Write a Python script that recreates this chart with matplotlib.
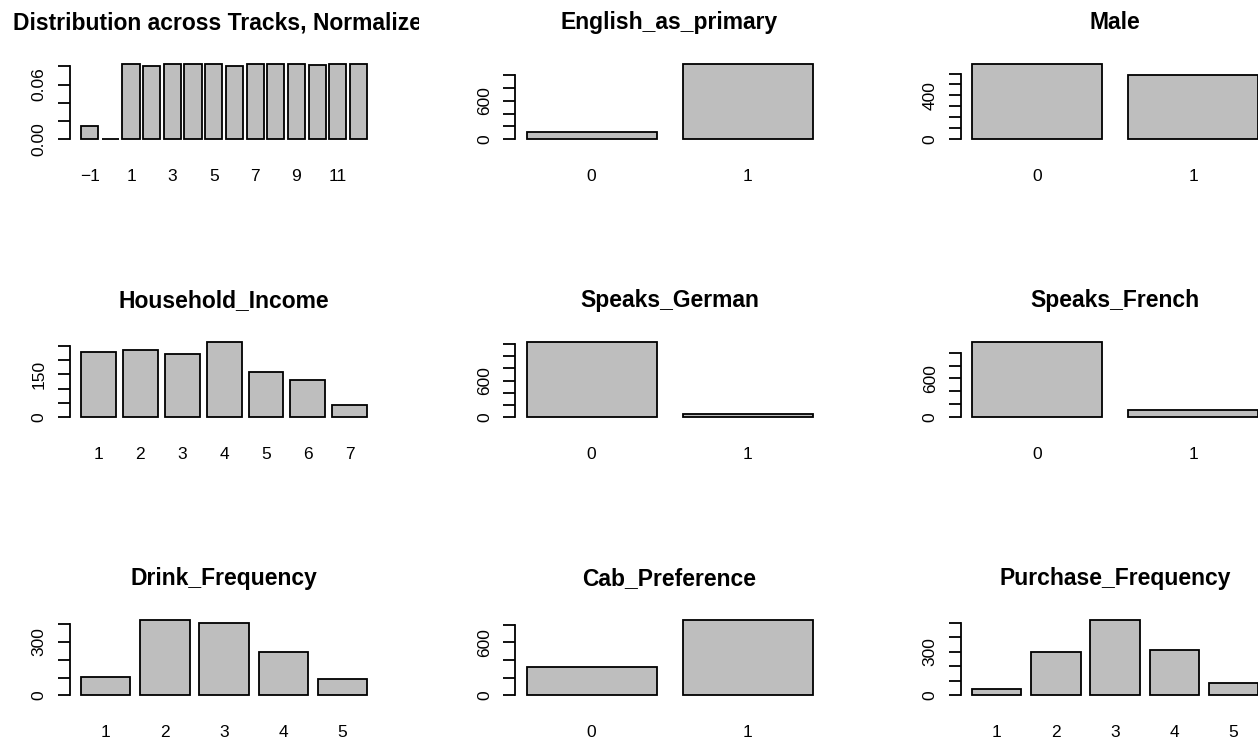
import numpy as np
import matplotlib
matplotlib.use("Agg")
import matplotlib.pyplot as plt
from matplotlib.transforms import Bbox, TransformedBbox

plt.rcParams['font.family'] = ['Liberation Sans', 'DejaVu Sans']

# counts per variable (survey data)
track_labels = ["\u22121", "0", "1", "2", "3", "4", "5", "6", "7", "8", "9", "10", "11", "12"]
track_share = [0.0146, 0.0005, 0.0824, 0.0809, 0.0824, 0.0824, 0.0824, 0.0809,
               0.0824, 0.0824, 0.0824, 0.0815, 0.0824, 0.0824]

binary_labels = ["0", "1"]
english_primary = [110, 1165]
male = [685, 590]
speaks_german = [1226, 49]
speaks_french = [1161, 114]
cab_preference = [322, 852]

income_labels = ["1", "2", "3", "4", "5", "6", "7"]
household_income = [229, 234, 220, 262, 159, 129, 42]

freq_labels = ["1", "2", "3", "4", "5"]
drink_frequency = [104, 423, 408, 246, 93]
purchase_frequency = [44, 299, 519, 315, 88]

panels = [
    ("Distribution across Tracks, Normalized", track_labels, track_share,
     [0, 0.02, 0.04, 0.06, 0.08], {0: "0.00", 0.06: "0.06"}, 2),
    ("English_as_primary", binary_labels, english_primary,
     [0, 200, 400, 600, 800, 1000], {0: "0", 600: "600"}, 1),
    ("Male", binary_labels, male,
     [0, 100, 200, 300, 400, 500, 600], {0: "0", 400: "400"}, 1),
    ("Household_Income", income_labels, household_income,
     [0, 50, 100, 150, 200, 250], {0: "0", 150: "150"}, 1),
    ("Speaks_German", binary_labels, speaks_german,
     [0, 200, 400, 600, 800, 1000, 1200], {0: "0", 600: "600"}, 1),
    ("Speaks_French", binary_labels, speaks_french,
     [0, 200, 400, 600, 800, 1000], {0: "0", 600: "600"}, 1),
    ("Drink_Frequency", freq_labels, drink_frequency,
     [0, 100, 200, 300, 400], {0: "0", 300: "300"}, 1),
    ("Cab_Preference", binary_labels, cab_preference,
     [0, 200, 400, 600, 800], {0: "0", 600: "600"}, 1),
    ("Purchase_Frequency", freq_labels, purchase_frequency,
     [0, 100, 200, 300, 400, 500], {0: "0", 300: "300"}, 1),
]

W, H = 1258, 740
fig = plt.figure(figsize=(W / 100, H / 100), dpi=100)

# plot regions in pixels, like par(mfrow=c(3,3))
col_w, row_h = 445.5, 278.0
plot_w, plot_h = 309.0, 81.1
left0, top0 = 69.6, 61.2

for k, (title, labels, values, yticks, shown, step) in enumerate(panels):
    r, c = divmod(k, 3)
    left = left0 + c * col_w
    top = top0 + r * row_h
    ax = fig.add_axes([left / W, 1 - (top + plot_h) / H, plot_w / W, plot_h / H])

    n = len(values)
    x = 0.2 + 1.2 * np.arange(n)
    ax.bar(x, values, width=1.0, align='edge', color='#BEBEBE',
           edgecolor='black', linewidth=1.3)

    xr = 1.2 * n - 0.2
    ax.set_xlim(0.2 - 0.04 * xr, 1.2 * n + 0.04 * xr)
    vmax = max(values)
    ax.set_ylim(-0.04 * vmax, 1.04 * vmax)

    ax.set_xticks(x[::step] + 0.5)
    ax.set_xticklabels(labels[::step], fontsize=12.5)
    ax.tick_params(axis='x', length=0, pad=19)

    ax.set_yticks(yticks)
    ax.set_yticklabels([shown.get(t, "") for t in yticks], fontsize=12.5,
                       rotation=90, va='center')
    ax.tick_params(axis='y', length=8.4, width=1.3, pad=8)

    for side in ['top', 'right', 'bottom']:
        ax.spines[side].set_visible(False)
    ax.spines['left'].set_bounds(yticks[0], yticks[-1])
    ax.spines['left'].set_linewidth(1.3)
    ax.patch.set_visible(False)

    t = ax.set_title(title, fontsize=16.5, fontweight='bold', pad=23)
    # keep the title inside its own column
    clip = TransformedBbox(Bbox([[c / 3, 0], [(c + 1) / 3, 1]]), fig.transFigure)
    t.set_clip_box(clip)
    t.set_clip_on(True)

fig.savefig('out.png', dpi=100)
